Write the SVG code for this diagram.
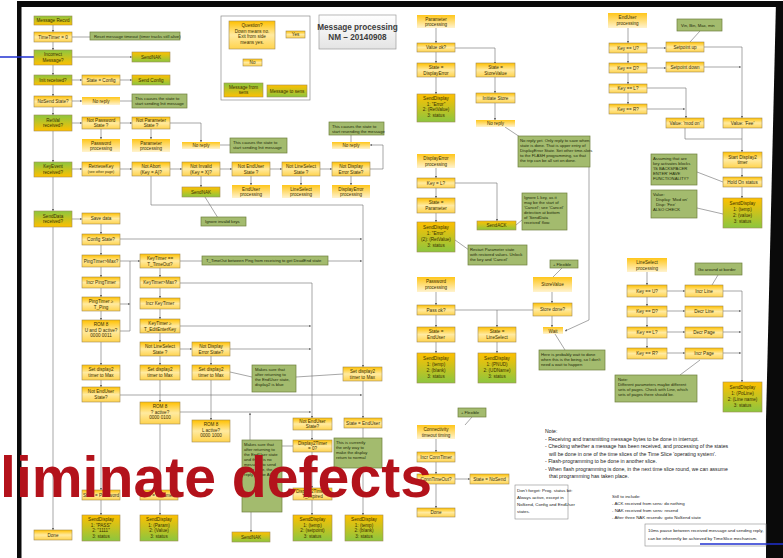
<svg xmlns="http://www.w3.org/2000/svg" width="783" height="558" viewBox="0 0 783 558">
<defs>
<linearGradient id="gy" x1="0" y1="0" x2="0" y2="1"><stop offset="0" stop-color="#ffc000"/><stop offset="0.5" stop-color="#ffeaa0"/><stop offset="1" stop-color="#ffd34d"/></linearGradient>
<linearGradient id="gg" x1="0" y1="0" x2="0" y2="1"><stop offset="0" stop-color="#8cc63f"/><stop offset="1" stop-color="#ffc000"/></linearGradient>
<linearGradient id="gs" x1="0" y1="0" x2="0" y2="1"><stop offset="0" stop-color="#ffc000"/><stop offset="1" stop-color="#8cc63f"/></linearGradient>
<linearGradient id="gp" x1="0" y1="0" x2="0" y2="1"><stop offset="0" stop-color="#ffc61a"/><stop offset="1" stop-color="#fff3cf"/></linearGradient>
<linearGradient id="gt" x1="0" y1="0" x2="0" y2="1"><stop offset="0" stop-color="#ffffff"/><stop offset="1" stop-color="#e4e4e4"/></linearGradient>
<marker id="ah" viewBox="0 0 6 6" refX="5.5" refY="3" markerWidth="4" markerHeight="4" orient="auto"><path d="M0,0 L6,3 L0,6 z" fill="#6b6b6b"/></marker>
<style>
.y{fill:url(#gy);stroke:#a08a55;stroke-width:.6}
.g{fill:url(#gg);stroke:#a08a55;stroke-width:.6}
.s{fill:url(#gs);stroke:#a08a55;stroke-width:.6}
.p{fill:url(#gp)}
.n{fill:#a3bb6e;stroke:#6d7f3c;stroke-width:.7}
.w{fill:#ffffff;stroke:#8c8c8c;stroke-width:.6}
text{font-family:"Liberation Sans",Arial,sans-serif;font-size:4.6px;fill:#3a3000}
.c{text-anchor:middle}
.nt{font-size:4.2px;fill:#1e2a08}
.wt{font-size:4.4px;fill:#222}
.gt{font-size:5.2px;fill:#222}
.ttl{font-size:8.2px;font-weight:bold;fill:#3c3c3c;text-anchor:middle}
#wires path{fill:none;stroke:#6b6b6b;stroke-width:.6}
#wires path.a{marker-end:url(#ah)}
</style>
</defs>
<rect width="783" height="558" fill="#ffffff"/>

<!-- photo frame -->
<g id="frame">
<rect x="17" y="1" width="766" height="6" fill="#0a0a0a"/>
<rect x="17" y="1" width="4.5" height="557" fill="#0a0a0a"/>
<polygon points="776,1 783,1 783,558 766,558 766,420" fill="#0a0a0a"/>
<line x1="0" y1="57" x2="34" y2="57" stroke="#2030d0" stroke-width="1.6"/>
</g>

<!-- connectors -->
<g id="wires">
<path class="a" d="M53,25 V32"/><path class="a" d="M53,42 V50"/><path class="a" d="M53,65 V75"/><path class="a" d="M53,85 V96"/><path class="a" d="M53,107 V115"/><path class="a" d="M53,131 V162"/><path class="a" d="M53,177 V211"/><path class="a" d="M53,227 V530"/>
<path d="M72,37 H90"/>
<path class="a" d="M72,57 H132"/>
<path class="a" d="M72,80 H82"/><path class="a" d="M120,80 H132"/>
<path class="a" d="M72,101 H82"/><path d="M120,101 H132"/>
<path class="a" d="M72,123 H82"/><path class="a" d="M120,123 H132"/><path class="a" d="M170,123 H201 V142"/>
<path class="a" d="M101,129 V139"/><path class="a" d="M151,129 V139"/><path d="M220,145 H230"/>
<path class="a" d="M72,169 H82"/><path class="a" d="M120,169 H132"/><path class="a" d="M170,169 H182"/><path class="a" d="M220,169 H232"/><path class="a" d="M270,169 H282"/><path class="a" d="M320,169 H332"/><path class="a" d="M370,169 H383 V145 H370"/>
<path class="a" d="M201,176 V187"/><path class="a" d="M251,176 V185"/><path class="a" d="M301,176 V185"/><path class="a" d="M351,176 V185"/>
<path d="M205,197 L218,218"/><path d="M351,135 V142"/>
<path class="a" d="M151,176 V205 H363 V367"/>
<path class="a" d="M72,219 H82"/><path class="a" d="M101,224 V234"/><path class="a" d="M120,239 H362"/><path class="a" d="M101,245 V255"/>
<path class="a" d="M120,261 H140"/><path class="a" d="M101,267 V277"/><path class="a" d="M101,288 V297"/><path class="a" d="M120,304 H130"/><path class="a" d="M101,311 V320"/><path d="M120,331 H130 V261"/>
<path class="a" d="M180,261 H362"/><path class="a" d="M160,268 V277"/>
<path class="a" d="M180,283 H312 V418"/><path class="a" d="M160,288 V298"/><path class="a" d="M160,309 V319"/>
<path class="a" d="M180,326 H311"/><path class="a" d="M160,333 V342"/>
<path class="a" d="M180,349 H192"/><path class="a" d="M160,356 V365"/>
<path class="a" d="M230,349 H311"/><path class="a" d="M211,356 V365"/>
<path class="a" d="M101,342 V365"/><path class="a" d="M101,380 V387"/>
<path class="a" d="M120,395 H362"/><path class="a" d="M101,402 V490"/>
<path class="a" d="M160,380 V402"/><path class="a" d="M211,380 V420"/><path class="a" d="M363,381 V418"/>
<path d="M230,372 L252,377"/><path d="M296,377 L343,374"/>
<path class="a" d="M180,412 H311"/><path class="a" d="M250,440 V413"/>
<path class="a" d="M160,424 V490"/><path class="a" d="M101,500 V515"/><path class="a" d="M160,500 V515"/>
<path class="a" d="M312,430 V440"/><path class="a" d="M312,452 V488"/><path class="a" d="M312,500 V515"/><path class="a" d="M363,428 V515"/><path class="a" d="M293,446 H251 V532"/>

<path class="a" d="M436,28 V43"/><path class="a" d="M455,48 H495 V64"/><path class="a" d="M436,52 V63"/><path class="a" d="M436,77 V94"/><path class="a" d="M495,77 V93"/><path class="a" d="M495,103 V120"/><path d="M505,127 L520,137"/>
<path class="a" d="M436,168 V178"/><path class="a" d="M455,183 H497 V221"/><path class="a" d="M436,188 V198"/><path class="a" d="M436,213 V222"/>
<path d="M516,225 L522,220"/><path d="M455,240 L469,250"/>
<path d="M562,268 L553,277"/>
<path class="a" d="M436,292 V305"/><path class="a" d="M552,292 V303"/><path d="M455,310 H533"/><path class="a" d="M497,310 V327"/><path class="a" d="M436,315 V327"/><path class="a" d="M552,316 V327"/>
<path class="a" d="M436,342 V353"/><path class="a" d="M497,342 V353"/><path d="M555,334 L565,350"/>
<path class="a" d="M589,167 V320 L565,331"/>
<path d="M472,417 L465,425"/>
<path class="a" d="M436,439 V452"/><path class="a" d="M436,462 V474"/><path class="a" d="M455,479 H470"/><path class="a" d="M436,484 V508"/>

<path class="a" d="M628,28 V43"/><path class="a" d="M647,48 H666"/><path class="a" d="M628,53 V63"/><path class="a" d="M647,68 H666"/><path class="a" d="M628,73 V84"/><path class="a" d="M647,88 H686 V118"/><path class="a" d="M628,93 V104"/><path class="a" d="M647,109 H685"/>
<path class="a" d="M704,47 H742 V118"/><path class="a" d="M704,67 H741"/><path d="M700,31 L690,42"/>
<path d="M685,128 V139 H742"/><path class="a" d="M742,128 V152"/><path class="a" d="M742,168 V177"/><path class="a" d="M742,187 V198"/>
<path d="M697,172 L723,182"/><path d="M697,208 L723,214"/>
<path class="a" d="M647,272 V285"/><path class="a" d="M667,291 H685"/><path class="a" d="M647,297 V306"/><path class="a" d="M667,311 H685"/><path class="a" d="M647,317 V327"/><path class="a" d="M667,332 H685"/><path class="a" d="M647,338 V348"/><path class="a" d="M667,353 H685"/>
<path class="a" d="M723,291 H742 V382"/><path class="a" d="M723,311 H741"/><path class="a" d="M723,332 H741"/><path class="a" d="M723,353 H741"/>
<path d="M718,275 L712,285"/><path d="M680,375 L700,360"/>
<path d="M264,96 V58"/><path class="a" d="M275,34 H286"/><path class="a" d="M252,49 V59"/>
</g>

<!-- legend -->
<g id="legend">
<rect x="221" y="16" width="89" height="84" fill="#ffffff" stroke="#8c8c8c" stroke-width=".7"/>
<rect class="y" x="229" y="21" width="46" height="28"/>
<text class="c" x="252" y="27">Question?</text><text class="c" x="252" y="32.5">Down means no.</text><text class="c" x="252" y="38">Exit from side</text><text class="c" x="252" y="43.5">means yes.</text>
<rect class="y" x="286" y="31" width="19" height="7"/><text class="c" x="295.5" y="36.2">Yes</text>
<rect class="y" x="243" y="59" width="19" height="7"/><text class="c" x="252.5" y="64.2">No</text>
<rect class="g" x="224" y="83" width="39" height="14"/><text class="c" x="243.5" y="89">Message from</text><text class="c" x="243.5" y="94">sens</text>
<rect class="s" x="267" y="85" width="40" height="12"/><text class="c" x="287" y="92.5">Message to sens</text>
</g>
<g id="title">
<rect x="319" y="15" width="77" height="34" fill="url(#gt)" stroke="#9a9a9a" stroke-width=".7"/>
<text class="ttl" x="357.5" y="30">Message processing</text>
<text class="ttl" x="357.5" y="40">NM – 20140908</text>
</g>

<!-- receive flow, left column -->
<g id="n-msgrecvd"><rect class="g" x="34" y="16" width="38" height="9"/><text class="c" x="53" y="22.2">Message Recvd</text></g>
<g id="n-timer0"><rect class="y" x="34" y="32" width="38" height="10"/><text class="c" x="53" y="38.6">TimeTimer = 0</text></g>
<g id="note-reset"><rect class="n" x="90" y="32" width="90" height="8"/><text class="nt" x="94" y="37.6">Reset message timeout (timer tracks still alive)</text></g>
<g id="n-incorrect"><rect class="g" x="34" y="50" width="38" height="15"/><text class="c" x="53" y="56">Incorrect</text><text class="c" x="53" y="61.5">Message?</text></g>
<g id="n-sendnak1"><rect class="s" x="132" y="52" width="38" height="10"/><text class="c" x="151" y="58.6">SendNAK</text></g>
<g id="n-init"><rect class="g" x="34" y="75" width="38" height="10"/><text class="c" x="53" y="81.6">Init received?</text></g>
<g id="n-stconfig"><rect class="y" x="82" y="75" width="38" height="10"/><text class="c" x="101" y="81.6">State = Config</text></g>
<g id="n-sendconfig"><rect class="s" x="132" y="75" width="38" height="10"/><text class="c" x="151" y="81.6">Send Config</text></g>
<g id="n-nosend"><rect class="y" x="34" y="96" width="38" height="11"/><text class="c" x="53" y="103">NoSend State?</text></g>
<g id="n-noreply1"><rect class="p" x="82" y="97" width="38" height="8"/><text class="c" x="101" y="102.6">No reply</text></g>
<g id="note-init1"><rect class="n" x="132" y="94" width="55" height="14"/><text class="nt" x="135" y="99.5">This causes the state to</text><text class="nt" x="135" y="104.5">start sending Init message</text></g>
<g id="n-retval"><rect class="g" x="34" y="115" width="38" height="16"/><text class="c" x="53" y="121.5">RetVal</text><text class="c" x="53" y="127">received?</text></g>
<g id="n-notpass"><rect class="y" x="82" y="117" width="38" height="12"/><text class="c" x="101" y="122">Not Password</text><text class="c" x="101" y="127">State ?</text></g>
<g id="n-notparam"><rect class="y" x="132" y="117" width="38" height="12"/><text class="c" x="151" y="122">Not Parameter</text><text class="c" x="151" y="127">State ?</text></g>
<g id="n-passproc"><rect class="p" x="82" y="139" width="38" height="13"/><text class="c" x="101" y="144.5">Password</text><text class="c" x="101" y="149.5">processing</text></g>
<g id="n-paramproc"><rect class="p" x="132" y="139" width="38" height="13"/><text class="c" x="151" y="144.5">Parameter</text><text class="c" x="151" y="149.5">processing</text></g>
<g id="n-noreply2"><rect class="p" x="182" y="142" width="38" height="7"/><text class="c" x="201" y="147.3">No reply</text></g>
<g id="note-init2"><rect class="n" x="230" y="138" width="57" height="15"/><text class="nt" x="233" y="144">This causes the state to</text><text class="nt" x="233" y="149">start sending Init message</text></g>
<g id="n-keyevent"><rect class="g" x="34" y="162" width="38" height="15"/><text class="c" x="53" y="168">KeyEvent</text><text class="c" x="53" y="173.5">received?</text></g>
<g id="n-retrievekey"><rect class="y" x="82" y="162" width="38" height="14"/><text class="c" x="101" y="168">RetrieveKey</text><text class="c" x="101" y="173" style="font-size:3.6px">(see other page)</text></g>
<g id="n-notabort"><rect class="y" x="132" y="162" width="38" height="14"/><text class="c" x="151" y="168">Not Abort</text><text class="c" x="151" y="173.5">(Key = A)?</text></g>
<g id="n-notinvalid"><rect class="y" x="182" y="162" width="38" height="14"/><text class="c" x="201" y="168">Not Invalid</text><text class="c" x="201" y="173.5">(Key = X)?</text></g>
<g id="n-notenduser1"><rect class="y" x="232" y="162" width="38" height="14"/><text class="c" x="251" y="168">Not EndUser</text><text class="c" x="251" y="173.5">State ?</text></g>
<g id="n-notlinesel1"><rect class="y" x="282" y="162" width="38" height="14"/><text class="c" x="301" y="168">Not LineSelect</text><text class="c" x="301" y="173.5">State ?</text></g>
<g id="n-notdisperr1"><rect class="y" x="332" y="162" width="38" height="14"/><text class="c" x="351" y="168">Not Display</text><text class="c" x="351" y="173.5">Error State?</text></g>
<g id="n-noreply3"><rect class="p" x="332" y="142" width="38" height="7"/><text class="c" x="351" y="147.3">No reply</text></g>
<g id="note-resend"><rect class="n" x="329" y="122" width="55" height="13"/><text class="nt" x="332" y="127.5">This causes the state to</text><text class="nt" x="332" y="132.5">start resending the message</text></g>
<g id="n-sendnak2"><rect class="s" x="182" y="187" width="38" height="10"/><text class="c" x="201" y="193.6">SendNAK</text></g>
<g id="n-enduserproc"><rect class="p" x="232" y="185" width="38" height="13"/><text class="c" x="251" y="190.5">EndUser</text><text class="c" x="251" y="195.5">processing</text></g>
<g id="n-lineselproc"><rect class="p" x="282" y="185" width="38" height="13"/><text class="c" x="301" y="190.5">LineSelect</text><text class="c" x="301" y="195.5">processing</text></g>
<g id="n-disperrproc"><rect class="p" x="332" y="185" width="38" height="13"/><text class="c" x="351" y="190.5">DisplayError</text><text class="c" x="351" y="195.5">processing</text></g>
<g id="note-ignore"><rect class="n" x="201" y="217" width="45" height="9"/><text class="nt" x="205" y="223">Ignore invalid keys</text></g>

<g id="n-senddata"><rect class="g" x="34" y="211" width="38" height="16"/><text class="c" x="53" y="217.5">SendData</text><text class="c" x="53" y="223">received?</text></g>
<g id="n-savedata"><rect class="y" x="82" y="213" width="38" height="11"/><text class="c" x="101" y="220">Save data</text></g>
<g id="n-configstate"><rect class="y" x="82" y="234" width="38" height="11"/><text class="c" x="101" y="241">Config State?</text></g>
<g id="n-pingmax"><rect class="y" x="82" y="255" width="38" height="12"/><text class="c" x="101" y="262.5">PingTimer&gt;Max?</text></g>
<g id="n-incrping"><rect class="y" x="82" y="277" width="38" height="11"/><text class="c" x="101" y="284">Incr PingTimer</text></g>
<g id="n-pingge"><rect class="y" x="82" y="297" width="38" height="14"/><text class="c" x="101" y="303">PingTimer ≥</text><text class="c" x="101" y="308.5">T_Ping</text></g>
<g id="n-rom8ud"><rect class="y" x="82" y="320" width="38" height="22"/><text class="c" x="101" y="326">ROM 8</text><text class="c" x="101" y="331.5">U and D active?</text><text class="c" x="101" y="337">0000 0011</text></g>
<g id="n-setd2a"><rect class="y" x="82" y="365" width="38" height="15"/><text class="c" x="101" y="371">Set display2</text><text class="c" x="101" y="376.5">timer to Max</text></g>
<g id="n-notenduser2"><rect class="y" x="82" y="387" width="38" height="15"/><text class="c" x="101" y="393">Not EndUser</text><text class="c" x="101" y="398.5">State?</text></g>
<g id="n-stpass"><rect class="y" x="82" y="490" width="38" height="10"/><text class="c" x="101" y="496.6">State = Password</text></g>
<g id="n-sdpass"><rect class="s" x="82" y="515" width="38" height="26"/><text class="c" x="101" y="521">SendDisplay</text><text class="c" x="101" y="526.5">1: "PASS"</text><text class="c" x="101" y="532">2: "1111"</text><text class="c" x="101" y="537.5">3: status</text></g>
<g id="n-done1"><rect class="y" x="34" y="530" width="38" height="10"/><text class="c" x="53" y="536.6">Done</text></g>

<g id="n-keytimeout"><rect class="y" x="140" y="254" width="40" height="14"/><text class="c" x="160" y="260">KeyTimer ==</text><text class="c" x="160" y="265.5">T_TimeOut?</text></g>
<g id="note-timeout"><rect class="n" x="202" y="256" width="126" height="9"/><text class="nt" x="206" y="262">T_TimeOut between Ping from receiving to get DeadEnd state</text></g>
<g id="n-keymax"><rect class="y" x="140" y="277" width="40" height="11"/><text class="c" x="160" y="284">KeyTimer&gt;Max?</text></g>
<g id="n-incrkey"><rect class="y" x="140" y="298" width="40" height="11"/><text class="c" x="160" y="305">Incr KeyTimer</text></g>
<g id="n-keyge"><rect class="y" x="140" y="319" width="40" height="14"/><text class="c" x="160" y="325">KeyTimer ≥</text><text class="c" x="160" y="330.5">T_EditEnterKey</text></g>
<g id="n-notlinesel2"><rect class="y" x="140" y="342" width="40" height="14"/><text class="c" x="160" y="348">Not LineSelect</text><text class="c" x="160" y="353.5">State ?</text></g>
<g id="n-notdisperr2"><rect class="y" x="192" y="342" width="38" height="14"/><text class="c" x="211" y="348">Not Display</text><text class="c" x="211" y="353.5">Error State?</text></g>
<g id="n-setd2b"><rect class="y" x="140" y="365" width="40" height="15"/><text class="c" x="160" y="371">Set display2</text><text class="c" x="160" y="376.5">timer to Max</text></g>
<g id="n-setd2c"><rect class="y" x="192" y="365" width="38" height="15"/><text class="c" x="211" y="371">Set display2</text><text class="c" x="211" y="376.5">timer to Max</text></g>
<g id="note-blue"><rect class="n" x="252" y="365" width="44" height="27"/><text class="nt" x="255" y="370.5">Makes sure that</text><text class="nt" x="255" y="375.5">after returning to</text><text class="nt" x="255" y="380.5">the EndUser state,</text><text class="nt" x="255" y="385.5">display2 is blue</text></g>
<g id="n-setd2d"><rect class="y" x="343" y="367" width="39" height="14"/><text class="c" x="362.5" y="373">Set display2</text><text class="c" x="362.5" y="378.5">timer to Max</text></g>
<g id="n-rom8q"><rect class="y" x="140" y="402" width="40" height="22"/><text class="c" x="160" y="408">ROM 8</text><text class="c" x="160" y="413.5">? active?</text><text class="c" x="160" y="419">0000 0100</text></g>
<g id="n-rom8l"><rect class="y" x="192" y="420" width="38" height="22"/><text class="c" x="211" y="426">ROM 8</text><text class="c" x="211" y="431.5">L active?</text><text class="c" x="211" y="437">0000 1000</text></g>
<g id="n-stparam"><rect class="y" x="140" y="490" width="38" height="10"/><text class="c" x="159" y="496.6">State = Parameter</text></g>
<g id="n-sdparam"><rect class="s" x="140" y="515" width="38" height="26"/><text class="c" x="159" y="521">SendDisplay</text><text class="c" x="159" y="526.5">1: (Param)</text><text class="c" x="159" y="532">2: (Value)</text><text class="c" x="159" y="537.5">3: status</text></g>

<g id="n-notenduser3"><rect class="y" x="293" y="418" width="39" height="12"/><text class="c" x="312.5" y="423">Not EndUser</text><text class="c" x="312.5" y="428">State?</text></g>
<g id="n-stenduser1"><rect class="y" x="344" y="418" width="38" height="10"/><text class="c" x="363" y="424.6">State = EndUser</text></g>
<g id="note-ack"><rect class="n" x="242" y="440" width="40" height="72"/><text class="nt" x="244" y="446">Makes sure that</text><text class="nt" x="244" y="451">after returning to</text><text class="nt" x="244" y="456">the EndUser state</text><text class="nt" x="244" y="461">and there is no</text><text class="nt" x="244" y="466">message to send</text><text class="nt" x="244" y="471">in the case, the</text><text class="nt" x="244" y="476">reply will be ACK</text></g>
<g id="n-d2q"><rect class="y" x="293" y="440" width="39" height="12"/><text class="c" x="312.5" y="445">Display2Timer</text><text class="c" x="312.5" y="450">= 0?</text></g>
<g id="note-expire"><rect class="n" x="334" y="438" width="48" height="30"/><text class="nt" x="336" y="444">This is currently</text><text class="nt" x="336" y="449">the only way to</text><text class="nt" x="336" y="454">make the display</text><text class="nt" x="336" y="459">return to normal</text></g>
<g id="n-d2exp"><rect class="y" x="293" y="488" width="39" height="12"/><text class="c" x="312.5" y="493">Display2Timer =</text><text class="c" x="312.5" y="498">T_expired</text></g>
<g id="n-sendnak3"><rect class="s" x="232" y="532" width="38" height="10"/><text class="c" x="251" y="538.6">SendNAK</text></g>
<g id="n-sdsetp"><rect class="s" x="293" y="515" width="39" height="26"/><text class="c" x="312.5" y="521">SendDisplay</text><text class="c" x="312.5" y="526.5">1: (temp)</text><text class="c" x="312.5" y="532">2: (setpoint)</text><text class="c" x="312.5" y="537.5">3: status</text></g>
<g id="n-sdblank1"><rect class="s" x="345" y="515" width="38" height="26"/><text class="c" x="364" y="521">SendDisplay</text><text class="c" x="364" y="526.5">1: (temp)</text><text class="c" x="364" y="532">2: (blank)</text><text class="c" x="364" y="537.5">3: status</text></g>

<!-- parameter / display error / password flows -->
<g id="n-paramproc2"><rect class="p" x="417" y="15" width="38" height="13"/><text class="c" x="436" y="20.5">Parameter</text><text class="c" x="436" y="25.5">processing</text></g>
<g id="n-valueok"><rect class="y" x="417" y="43" width="38" height="9"/><text class="c" x="436" y="49.2">Value ok?</text></g>
<g id="n-stdisperr"><rect class="y" x="417" y="63" width="38" height="14"/><text class="c" x="436" y="69">State =</text><text class="c" x="436" y="74.5">DisplayError</text></g>
<g id="n-stsv"><rect class="y" x="476" y="63" width="39" height="14"/><text class="c" x="495.5" y="69">State =</text><text class="c" x="495.5" y="74.5">StoreValue</text></g>
<g id="n-sderr1"><rect class="s" x="417" y="94" width="38" height="28"/><text class="c" x="436" y="100">SendDisplay</text><text class="c" x="436" y="105.5">1: "Error"</text><text class="c" x="436" y="111">2: (RetValue)</text><text class="c" x="436" y="116.5">3: status</text></g>
<g id="n-initstore"><rect class="y" x="476" y="93" width="39" height="10"/><text class="c" x="495.5" y="99.6">Initiate Store</text></g>
<g id="n-noreply4"><rect class="p" x="476" y="120" width="39" height="7"/><text class="c" x="495.5" y="125.3">No reply</text></g>
<g id="note-flash"><rect class="n" x="518" y="136" width="72" height="31"/><text class="nt" x="520" y="142">No reply yet. Only reply to save when</text><text class="nt" x="520" y="147">state is done. That is upper entry of</text><text class="nt" x="520" y="152">DisplayError State. Set other time-slots</text><text class="nt" x="520" y="157">to the FLASH programming, so that</text><text class="nt" x="520" y="162">the trip can be all set on done.</text></g>
<g id="n-disperrproc2"><rect class="p" x="417" y="154" width="38" height="14"/><text class="c" x="436" y="160">DisplayError</text><text class="c" x="436" y="165.5">processing</text></g>
<g id="n-keyl"><rect class="y" x="417" y="178" width="38" height="10"/><text class="c" x="436" y="184.6">Key = L?</text></g>
<g id="n-stparam2"><rect class="y" x="417" y="198" width="38" height="15"/><text class="c" x="436" y="204">State =</text><text class="c" x="436" y="209.5">Parameter</text></g>
<g id="n-sderr2"><rect class="s" x="417" y="222" width="38" height="30"/><text class="c" x="436" y="228.5">SendDisplay</text><text class="c" x="436" y="234.5">1: "Error"</text><text class="c" x="436" y="240.5">(2): (RetValue)</text><text class="c" x="436" y="246.5">3: status</text></g>
<g id="n-sendack"><rect class="s" x="477" y="221" width="39" height="9"/><text class="c" x="496.5" y="227.2">SendACK</text></g>
<g id="note-ignl"><rect class="n" x="522" y="193" width="45" height="37"/><text class="nt" x="524" y="199">Ignore L key, as it</text><text class="nt" x="524" y="204">may be the start of</text><text class="nt" x="524" y="209">'Cancel'; see 'Cancel'</text><text class="nt" x="524" y="214">detection at bottom</text><text class="nt" x="524" y="219">of 'SendData</text><text class="nt" x="524" y="224">received' flow.</text></g>
<g id="note-restart"><rect class="n" x="468" y="245" width="59" height="20"/><text class="nt" x="470" y="251">Restart Parameter state</text><text class="nt" x="470" y="256">with restored values. Unlock</text><text class="nt" x="470" y="261">the key and 'Cancel'</text></g>
<g id="note-flex1"><rect class="n" x="550" y="260" width="28" height="8"/><text class="nt" x="553" y="265.6">+ Flexible</text></g>
<g id="n-passproc2"><rect class="p" x="417" y="277" width="38" height="15"/><text class="c" x="436" y="283">Password</text><text class="c" x="436" y="288.5">processing</text></g>
<g id="n-storevalue"><rect class="p" x="533" y="277" width="39" height="15"/><text class="c" x="552.5" y="286">StoreValue</text></g>
<g id="n-passok"><rect class="y" x="417" y="305" width="38" height="10"/><text class="c" x="436" y="311.6">Pass ok?</text></g>
<g id="n-storedone"><rect class="y" x="533" y="303" width="39" height="13"/><text class="c" x="552.5" y="311">Store done?</text></g>
<g id="n-stenduser2"><rect class="y" x="417" y="327" width="38" height="15"/><text class="c" x="436" y="333">State =</text><text class="c" x="436" y="338.5">EndUser</text></g>
<g id="n-stlinesel"><rect class="y" x="478" y="327" width="38" height="15"/><text class="c" x="497" y="333">State =</text><text class="c" x="497" y="338.5">LineSelect</text></g>
<g id="n-wait"><rect class="p" x="543" y="327" width="20" height="7"/><text class="c" x="553" y="332.5">Wait</text></g>
<g id="n-sdblank2"><rect class="s" x="417" y="353" width="38" height="30"/><text class="c" x="436" y="359.5">SendDisplay</text><text class="c" x="436" y="365.5">1: (temp)</text><text class="c" x="436" y="371.5">2: (blank)</text><text class="c" x="436" y="377.5">3: status</text></g>
<g id="n-sdpnud"><rect class="s" x="478" y="353" width="38" height="30"/><text class="c" x="497" y="359.5">SendDisplay</text><text class="c" x="497" y="365.5">1: (PNUD)</text><text class="c" x="497" y="371.5">2: (UDName)</text><text class="c" x="497" y="377.5">3: status</text></g>
<g id="note-wait"><rect class="n" x="539" y="350" width="66" height="20"/><text class="nt" x="541" y="356">Here is probably wait to done</text><text class="nt" x="541" y="361">when this is the being, so I don't</text><text class="nt" x="541" y="366">need a wait to happen</text></g>
<g id="note-flex2"><rect class="n" x="458" y="408" width="28" height="9"/><text class="nt" x="461" y="414">+ Flexible</text></g>
<g id="n-conn"><rect class="p" x="417" y="425" width="38" height="14"/><text class="c" x="436" y="431">Connectivity</text><text class="c" x="436" y="436.5">timeout timing</text></g>
<g id="n-incrconn"><rect class="y" x="417" y="452" width="38" height="10"/><text class="c" x="436" y="458.6">Incr ConnTimer</text></g>
<g id="n-conntimeout"><rect class="y" x="417" y="474" width="38" height="10"/><text class="c" x="436" y="480.6">ConnTimeOut?</text></g>
<g id="n-stnosend"><rect class="y" x="470" y="474" width="39" height="10"/><text class="c" x="489.5" y="480.6">State = NoSend</text></g>
<g id="n-done2"><rect class="y" x="417" y="508" width="38" height="9"/><text class="c" x="436" y="514.2">Done</text></g>
<g id="note-prog"><rect class="w" x="515" y="485" width="53" height="34"/><text class="wt" x="517" y="492">Don't forget: Prog. status bit:</text><text class="wt" x="517" y="499">Always active, except in</text><text class="wt" x="517" y="506">NoSend, Config and EndUser</text><text class="wt" x="517" y="513">states.</text></g>

<!-- enduser / lineselect flows -->
<g id="n-euproc"><rect class="p" x="608" y="13" width="39" height="15"/><text class="c" x="627.5" y="19">EndUser</text><text class="c" x="627.5" y="24.5">processing</text></g>
<g id="note-vin"><rect class="n" x="677" y="19" width="45" height="12"/><text class="nt" x="681" y="26.5">Vin, Bin, Max, min</text></g>
<g id="n-ku1"><rect class="y" x="609" y="43" width="38" height="10"/><text class="c" x="628" y="49.6">Key == U?</text></g>
<g id="n-kd1"><rect class="y" x="609" y="63" width="38" height="10"/><text class="c" x="628" y="69.6">Key == D?</text></g>
<g id="n-kl1"><rect class="y" x="609" y="84" width="38" height="9"/><text class="c" x="628" y="90.2">Key == L?</text></g>
<g id="n-kr1"><rect class="y" x="609" y="104" width="38" height="10"/><text class="c" x="628" y="110.6">Key == R?</text></g>
<g id="n-spup"><rect class="y" x="666" y="42" width="38" height="10"/><text class="c" x="685" y="48.6">Setpoint up</text></g>
<g id="n-spdown"><rect class="y" x="666" y="62" width="38" height="10"/><text class="c" x="685" y="68.6">Setpoint down</text></g>
<g id="n-valmod"><rect class="y" x="666" y="118" width="38" height="10"/><text class="c" x="685" y="124.6">Value: 'mod on'</text></g>
<g id="n-valfee"><rect class="y" x="723" y="118" width="39" height="10"/><text class="c" x="742.5" y="124.6">Value: 'Fee'</text></g>
<g id="n-startd2"><rect class="y" x="723" y="152" width="39" height="16"/><text class="c" x="742.5" y="158.5">Start Display2</text><text class="c" x="742.5" y="164">timer</text></g>
<g id="n-holdon"><rect class="y" x="723" y="177" width="39" height="10"/><text class="c" x="742.5" y="183.6">Hold On status</text></g>
<g id="n-sdvalue"><rect class="s" x="723" y="198" width="39" height="30"/><text class="c" x="742.5" y="204.5">SendDisplay</text><text class="c" x="742.5" y="210.5">1: (temp)</text><text class="c" x="742.5" y="216.5">2: (value)</text><text class="c" x="742.5" y="222.5">3: status</text></g>
<g id="note-assume"><rect class="n" x="651" y="154" width="46" height="31"/><text class="nt" x="653" y="160">Assuming that are</text><text class="nt" x="653" y="165">key activates blocks</text><text class="nt" x="653" y="170">'IS BACKSPACER</text><text class="nt" x="653" y="175">ENTER' HAVE</text><text class="nt" x="653" y="180">FUNCTIONALITY?</text></g>
<g id="note-value"><rect class="n" x="651" y="190" width="46" height="28"/><text class="nt" x="653" y="196">Value:</text><text class="nt" x="656" y="201">Display: 'Mod on'</text><text class="nt" x="656" y="206">Disp: 'Fee'</text><text class="nt" x="653" y="211">ALSO CHECK</text></g>
<g id="n-lsproc"><rect class="p" x="627" y="258" width="40" height="14"/><text class="c" x="647" y="264">LineSelect</text><text class="c" x="647" y="269.5">processing</text></g>
<g id="note-border"><rect class="n" x="695" y="263" width="47" height="12"/><text class="nt" x="698" y="270.5">Go around at border</text></g>
<g id="n-ku2"><rect class="y" x="627" y="285" width="40" height="12"/><text class="c" x="647" y="292.5">Key == U?</text></g>
<g id="n-kd2"><rect class="y" x="627" y="306" width="40" height="11"/><text class="c" x="647" y="313">Key == D?</text></g>
<g id="n-kl2"><rect class="y" x="627" y="327" width="40" height="11"/><text class="c" x="647" y="334">Key == L?</text></g>
<g id="n-kr2"><rect class="y" x="627" y="348" width="40" height="11"/><text class="c" x="647" y="355">Key == R?</text></g>
<g id="n-incrline"><rect class="y" x="685" y="285" width="38" height="12"/><text class="c" x="704" y="292.5">Incr Line</text></g>
<g id="n-decrline"><rect class="y" x="685" y="306" width="38" height="11"/><text class="c" x="704" y="313">Decr Line</text></g>
<g id="n-decrpage"><rect class="y" x="685" y="327" width="38" height="11"/><text class="c" x="704" y="334">Decr Page</text></g>
<g id="n-incrpage"><rect class="y" x="685" y="348" width="38" height="11"/><text class="c" x="704" y="355">Incr Page</text></g>
<g id="n-sdline"><rect class="s" x="723" y="382" width="39" height="30"/><text class="c" x="742.5" y="388.5">SendDisplay</text><text class="c" x="742.5" y="394.5">1: (PoLine)</text><text class="c" x="742.5" y="400.5">2: (Line name)</text><text class="c" x="742.5" y="406.5">3: status</text></g>
<g id="note-pages"><rect class="n" x="615" y="375" width="82" height="27"/><text class="nt" x="618" y="381">Note:</text><text class="nt" x="618" y="386">Different parameters maybe different</text><text class="nt" x="618" y="391">sets of pages. Check with Line, which</text><text class="nt" x="618" y="396">sets of pages there should be.</text></g>

<!-- general notes -->
<g id="note-general"><text class="gt" x="545" y="433">Note:</text><text class="gt" x="545" y="440.5">- Receiving and transmitting message bytes to be done in interrupt.</text><text class="gt" x="545" y="448">- Checking whether a message has been received, and processing of the states</text><text class="gt" x="549" y="455.5">will be done in one of the time slices of the Time Slice 'operating system'.</text><text class="gt" x="545" y="463">- Flash-programming to be done in another slice.</text><text class="gt" x="545" y="470.5">- When flash programming is done, in the next time slice round, we can assume</text><text class="gt" x="549" y="478">that programming has taken place.</text></g>
<g id="note-still"><text class="wt" x="612" y="498">Still to include:</text><text class="wt" x="612" y="505">- ACK received from sens: do nothing</text><text class="wt" x="612" y="512">- NAK received from sens: resend</text><text class="wt" x="612" y="519">- After three NAK resends: goto NoSend state</text></g>
<g id="note-pause"><rect class="w" x="645" y="524" width="121" height="22"/><text class="wt" x="648" y="532">10ms pause between received message and sending reply,</text><text class="wt" x="648" y="540">can be inherently be achieved by TimeSlice mechanism.</text></g>
<line x1="700" y1="544" x2="783" y2="544" stroke="#2030d0" stroke-width="1.6"/>

<!-- caption -->
<text x="0" y="497" style="font-family:'Liberation Sans',Arial,sans-serif;font-size:57px;font-weight:bold;fill:#b3121b" textLength="432" lengthAdjust="spacingAndGlyphs">liminate defects</text>
</svg>
